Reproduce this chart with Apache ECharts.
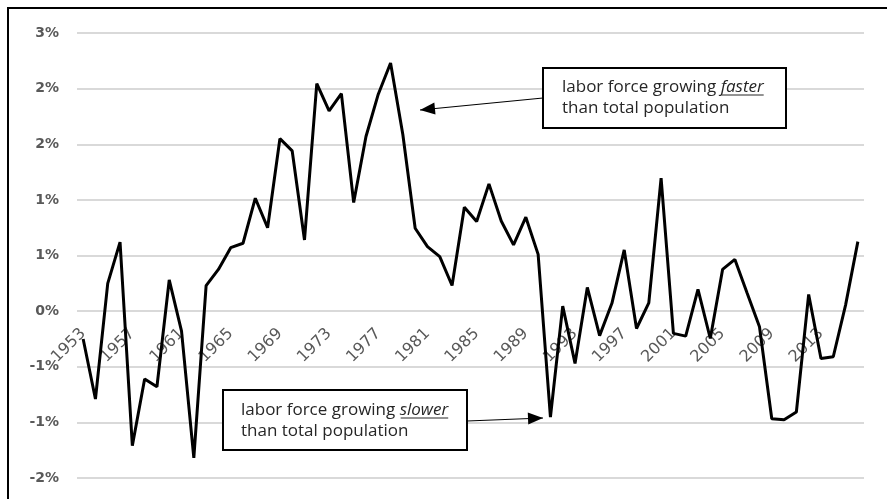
<!DOCTYPE html>
<html>
<head>
<meta charset="utf-8">
<script src="https://cdn.jsdelivr.net/npm/echarts@6/dist/echarts.min.js"></script>
<style>html,body{margin:0;padding:0;background:#fff;}#c{width:887px;height:499px;}</style>
</head>
<body>
<div id="c"></div>
<script>
const years = ['1953','1954','1955','1956','1957','1958','1959','1960','1961','1962','1963','1964','1965','1966','1967','1968','1969','1970','1971','1972','1973','1974','1975','1976','1977','1978','1979','1980','1981','1982','1983','1984','1985','1986','1987','1988','1989','1990','1991','1992','1993','1994','1995','1996','1997','1998','1999','2000','2001','2002','2003','2004','2005','2006','2007','2008','2009','2010','2011','2012','2013','2014','2015','2016'];
const diffGrowth = [-0.25,-0.79,0.25,0.62,-1.21,-0.61,-0.68,0.28,-0.18,-1.32,0.23,0.375,0.57,0.61,1.015,0.75,1.55,1.44,0.64,2.045,1.80,1.955,0.976,1.57,1.95,2.23,1.585,0.745,0.58,0.49,0.23,0.934,0.805,1.144,0.81,0.595,0.844,0.51,-0.952,0.045,-0.47,0.213,-0.22,0.07,0.55,-0.156,0.075,1.195,-0.2,-0.225,0.195,-0.246,0.375,0.465,0.16,-0.14,-0.967,-0.976,-0.907,0.15,-0.426,-0.41,0.054,0.625];
const yMin = -1.5, yMax = 2.5, yStep = 0.5;
const noteFaster = ['labor force growing ', 'faster', 'than total population'];
const noteSlower = ['labor force growing ', 'slower', 'than total population'];

const W = 887, H = 499;
const gridL = 77, gridR = 23, gridT = 33, gridB = 21;
const plotH = H - gridT - gridB;
const zeroOffset = -plotH * (0 - yMin) / (yMax - yMin);

const noteFont = 'Open Sans';
const noteSize = 17;
const mctx = document.createElement('canvas').getContext('2d');
function tw(txt, italic) {
  mctx.font = (italic ? 'italic ' : '') + noteSize + 'px "' + noteFont + '"';
  return mctx.measureText(txt).width;
}

const chart = echarts.init(document.getElementById('c'));
const richNote = {
  n: {fontFamily: noteFont, fontSize: noteSize, fill: '#262626', lineHeight: 21},
  i: {fontFamily: noteFont, fontSize: noteSize, fontStyle: 'italic', fill: '#262626', lineHeight: 21}
};
function arrowHead(tip, from, len, hw) {
  const dx = tip[0]-from[0], dy = tip[1]-from[1];
  const L = Math.sqrt(dx*dx+dy*dy), ux = dx/L, uy = dy/L;
  const bx = tip[0]-ux*len, by = tip[1]-uy*len;
  return [tip, [bx - uy*hw, by + ux*hw], [bx + uy*hw, by - ux*hw]];
}
function note(x, y, parts, box) {
  const u0 = x + tw(parts[0], false), u1 = u0 + tw(parts[1], true);
  return [
    {type: 'rect', shape: box, style: {fill: '#fff', stroke: '#000', lineWidth: 2}, z: 10},
    {type: 'text', x: x, y: y, style: {text: '{n|' + parts[0] + '}{i|' + parts[1] + '}\n{n|' + parts[2] + '}', rich: richNote}, z: 11},
    {type: 'line', shape: {x1: u0 + 1, y1: y + 18.5, x2: u1, y2: y + 18.5}, style: {stroke: '#262626', lineWidth: 1}, z: 11}
  ];
}
function arrow(from, tip) {
  return [
    {type: 'line', shape: {x1: from[0], y1: from[1], x2: tip[0], y2: tip[1]}, style: {stroke: '#000', lineWidth: 1.2}, z: 10},
    {type: 'polygon', shape: {points: arrowHead(tip, from, 15, 6)}, style: {fill: '#000'}, z: 10}
  ];
}
chart.setOption({
  animation: false,
  grid: {left: gridL, right: gridR, top: gridT, bottom: gridB, containLabel: false, outerBoundsMode: 'none'},
  xAxis: {
    type: 'category', data: years, boundaryGap: true, offset: zeroOffset, z: 1,
    axisLine: {show: false, onZero: false},
    axisTick: {show: false},
    axisLabel: {interval: 3, rotate: 45, margin: 20, color: '#595959', fontFamily: 'DejaVu Sans', fontSize: 16}
  },
  yAxis: {
    type: 'value', min: yMin, max: yMax, interval: yStep,
    axisLine: {show: false}, axisTick: {show: false},
    splitLine: {lineStyle: {color: '#d9d9d9', width: 2}},
    axisLabel: {margin: 18, color: '#595959', fontFamily: 'DejaVu Sans', fontWeight: 'bold', fontSize: 14,
      formatter: v => { const r = Math.sign(v) * Math.round(Math.abs(v)); return (r === 0 ? 0 : r) + '%'; }}
  },
  series: [{
    type: 'line', data: diffGrowth, showSymbol: false, symbol: 'none',
    lineStyle: {color: '#000', width: 3}, z: 5
  }],
  graphic: [
    {type: 'rect', shape: {x: 8, y: 8, width: 900, height: 500}, style: {fill: 'none', stroke: '#000', lineWidth: 2}, z: 0}
  ].concat(
    note(562, 76.5, noteFaster, {x: 543, y: 68, width: 243, height: 60}),
    arrow([543, 98], [420, 110]),
    note(241, 399.5, noteSlower, {x: 223, y: 390, width: 244, height: 60}),
    arrow([467, 421], [543, 418])
  )
});
</script>
</body>
</html>
